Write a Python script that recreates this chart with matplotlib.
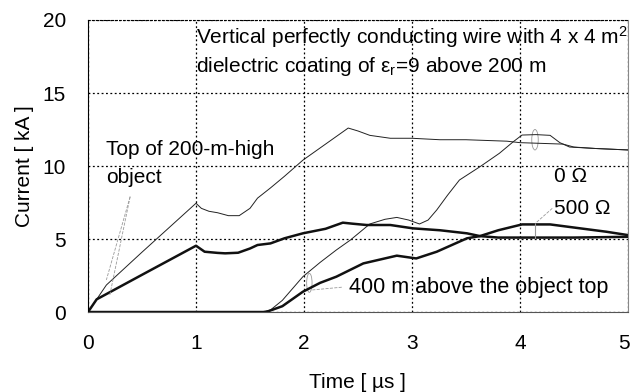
import numpy as np
import matplotlib.pyplot as plt
import matplotlib.transforms as mtransforms
from matplotlib.patches import Ellipse

plt.rcParams['font.family'] = ['Liberation Sans', 'DejaVu Sans']
plt.rcParams['mathtext.fontset'] = 'custom'
plt.rcParams['mathtext.rm'] = 'Liberation Sans'
plt.rcParams['mathtext.it'] = 'Liberation Sans'

# corriente en la cima del objeto de 200 m, resistencia 0 ohm (linea fina)
t_cima_0 = [0, 0.08, 0.17, 0.5, 1.0, 1.05, 1.12, 1.2, 1.3, 1.4, 1.5, 1.57, 1.69, 1.82, 1.99,
            2.2, 2.41, 2.5, 2.61, 2.8, 3.0, 3.26, 3.5, 3.88, 4.0, 4.2, 4.4, 4.5, 4.7, 5.0]
i_cima_0 = [0, 0.87, 1.85, 4.1, 7.45, 7.1, 6.9, 6.8, 6.6, 6.6, 7.1, 7.8, 8.5, 9.3, 10.4,
            11.5, 12.6, 12.4, 12.1, 11.9, 11.9, 11.8, 11.8, 11.7, 11.6, 11.55, 11.5, 11.3, 11.2, 11.1]

# cima del objeto, 500 ohm (linea gruesa)
t_cima_500 = [0, 0.08, 0.5, 1.0, 1.08, 1.2, 1.27, 1.39, 1.5, 1.57, 1.69, 1.82, 1.99, 2.2, 2.36,
              2.45, 2.58, 2.8, 3.01, 3.26, 3.51, 3.63, 3.8, 4.0, 4.5, 5.0]
i_cima_500 = [0, 0.87, 2.55, 4.54, 4.13, 4.05, 4.02, 4.06, 4.35, 4.59, 4.7, 5.05, 5.39, 5.7, 6.12,
              6.05, 5.96, 5.96, 5.73, 5.6, 5.39, 5.2, 5.1, 5.1, 5.1, 5.15]

# 400 m por encima de la cima, 0 ohm
t_400_0 = [0, 1.6, 1.69, 1.8, 1.99, 2.15, 2.3, 2.43, 2.61, 2.75, 2.86, 2.97, 3.07, 3.15, 3.23,
           3.33, 3.44, 3.63, 3.81, 3.94, 4.02, 4.15, 4.28, 4.37, 4.46, 4.7, 5.0]
i_400_0 = [0, 0, 0.14, 0.8, 2.42, 3.4, 4.25, 4.93, 6.03, 6.35, 6.48, 6.3, 6.03, 6.3, 6.99,
           8.0, 9.04, 9.95, 10.87, 11.67, 12.12, 12.15, 12.1, 11.6, 11.3, 11.2, 11.1]

# 400 m por encima de la cima, 500 ohm
t_400_500 = [0, 1.65, 1.8, 1.99, 2.15, 2.3, 2.55, 2.86, 3.04, 3.23, 3.51, 3.63, 3.8, 4.02,
             4.28, 4.56, 4.8, 5.0]
i_400_500 = [0, 0, 0.4, 1.39, 2.0, 2.42, 3.33, 3.86, 3.67, 4.13, 5.05, 5.2, 5.6, 6.0,
             6.0, 5.73, 5.5, 5.27]

marcas_x = [0, 1, 2, 3, 4, 5]
marcas_y = [0, 5, 10, 15, 20]


def graficar():
    fig = plt.figure(figsize=(6.31, 3.92), dpi=100)
    ax = fig.add_axes([0.1395, 0.204, 0.8555, 0.745])

    ax.plot(t_cima_0, i_cima_0, color='#222222', lw=0.7)
    ax.plot(t_400_0, i_400_0, color='#222222', lw=0.7)
    ax.plot(t_cima_500, i_cima_500, color='#111111', lw=1.8)
    ax.plot(t_400_500, i_400_500, color='#111111', lw=1.8)

    ax.set_xlim(0, 5)
    ax.set_ylim(0, 20)
    ax.set_xticks(marcas_x)
    ax.set_yticks(marcas_y)
    ax.grid(True, color='black', linestyle=(0, (1.5, 2)), lw=0.9)
    ax.tick_params(length=0, labelsize=15, pad=16)
    ax.tick_params(axis='y', pad=16)

    # el ultimo numero del eje x queda pegado al borde
    ultima = ax.get_xticklabels()[-1]
    ultima.set_transform(ultima.get_transform() +
                         mtransforms.ScaledTranslation(-4 / 100, 0, fig.dpi_scale_trans))

    ax.spines['left'].set_color('black')
    ax.spines['bottom'].set_color('#555555')
    ax.spines['right'].set_color('#888888')
    ax.spines['right'].set_linewidth(0.8)
    ax.spines['top'].set_linestyle((0, (1.5, 2)))

    ax.set_xlabel('Time [ µs ]', fontsize=15, labelpad=14)
    ax.set_ylabel('Current [ kA ]', fontsize=15, labelpad=6)

    ax.text(1.0, 18.8, 'Vertical perfectly conducting wire with 4 x 4 m$^2$',
            fontsize=15, va='center')
    ax.text(1.0, 16.8, 'dielectric coating of ε$_\\mathrm{r}$=9 above 200 m',
            fontsize=15, va='center')
    ax.text(0.17, 11.1, 'Top of 200-m-high', fontsize=15, va='center')
    ax.text(0.17, 9.2, 'object', fontsize=15, va='center')
    ax.text(2.42, 1.7, '400 m above the object top', fontsize=15.5, va='center')
    ax.text(4.32, 9.3, '0 Ω', fontsize=15, va='center')
    ax.text(4.32, 7.1, '500 Ω', fontsize=15, va='center')

    # lineas de referencia de las etiquetas
    gris = '#999999'
    ax.plot([0.39, 0.17], [7.9, 2.2], color=gris, lw=0.6, ls='--')
    ax.plot([0.39, 0.2], [7.9, 1.1], color=gris, lw=0.6, ls='--')
    ax.plot([2.35, 2.06], [1.7, 1.5], color=gris, lw=0.6, ls='--')
    ax.plot([4.3, 4.14], [7.1, 6.05], color=gris, lw=0.6, ls='--')
    ax.plot([4.14, 4.14], [5.1, 6.0], color=gris, lw=0.8)
    ax.add_patch(Ellipse((4.14, 11.8), 0.06, 1.4, fill=False, ec=gris, lw=0.6))
    ax.add_patch(Ellipse((2.05, 2.0), 0.05, 1.3, fill=False, ec=gris, lw=0.6))

    fig.savefig('out.png', dpi=100)


graficar()
